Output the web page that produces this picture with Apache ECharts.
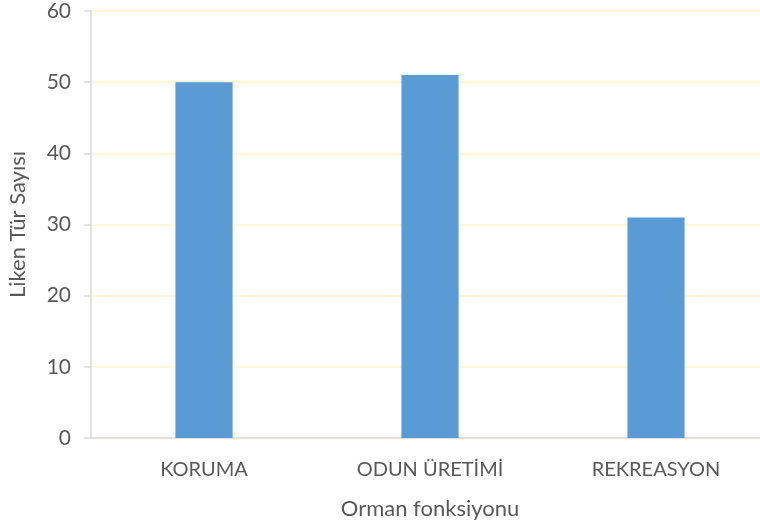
<!DOCTYPE html>
<html><head><meta charset="utf-8">
<script src="https://cdn.jsdelivr.net/npm/echarts@6/dist/echarts.min.js"></script>
<style>html,body{margin:0;padding:0;background:#fff}#c{width:760px;height:528px}</style>
</head><body><div id="c"></div>
<script>
var categories = ['KORUMA', 'ODUN ÜRETİMİ', 'REKREASYON'];
var values = [50, 51, 31];
var yTicks = [0, 10, 20, 30, 40, 50, 60];
var font = 'Lato';
var chart = echarts.init(document.getElementById('c'));
chart.setOption({
  animation: false,
  grid: {left: 91, right: -9, top: 11, bottom: 90, containLabel: false, outerBoundsMode: 'none'},
  xAxis: {
    type: 'category', data: categories,
    name: 'Orman fonksiyonu', nameLocation: 'middle', nameGap: 60,
    nameTextStyle: {color: '#595959', fontSize: 22, fontFamily: font},
    axisLine: {lineStyle: {color: '#d9d9d9', width: 1.5}},
    axisTick: {show: false},
    axisLabel: {color: '#595959', fontSize: 20, fontFamily: font, margin: 22}
  },
  yAxis: {
    type: 'value', min: yTicks[0], max: yTicks[yTicks.length-1], interval: 10,
    name: 'Liken Tür Sayısı', nameLocation: 'middle', nameGap: 62,
    nameTextStyle: {color: '#595959', fontSize: 22, fontFamily: font},
    axisLine: {show: true, lineStyle: {color: '#d9d9d9', width: 1.5}},
    axisTick: {show: true, length: 7, lineStyle: {color: '#d9d9d9', width: 1.5}},
    splitLine: {lineStyle: {color: '#fff2cc', width: 1.5}},
    axisLabel: {color: '#595959', fontSize: 21, fontFamily: font, margin: 20}
  },
  series: [{
    type: 'bar', data: values, barWidth: '25.3%',
    itemStyle: {color: '#5b9bd5'}
  }]
});
</script></body></html>
